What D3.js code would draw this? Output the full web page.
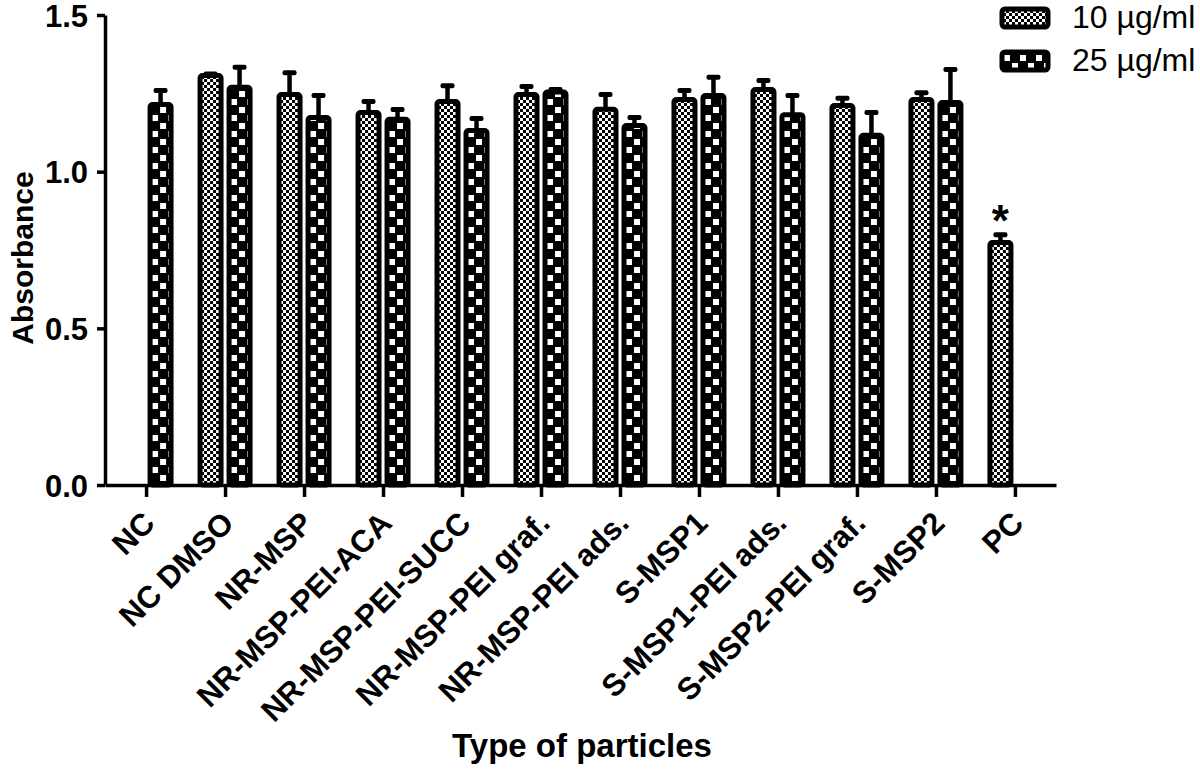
<!DOCTYPE html>
<html>
<head>
<meta charset="utf-8">
<script src="https://cdn.jsdelivr.net/npm/d3@7"></script>
<style>
  body { margin: 0; background: #fff; }
  svg { display: block; }
</style>
</head>
<body>
<svg id="chart" width="1200" height="770"></svg>
<script>

var categories = ["NC", "NC DMSO", "NR-MSP", "NR-MSP-PEI-ACA", "NR-MSP-PEI-SUCC", "NR-MSP-PEI graf.",
  "NR-MSP-PEI ads.", "S-MSP1", "S-MSP1-PEI ads.", "S-MSP2-PEI graf.", "S-MSP2", "PC"];
var seriesNames = ["10 µg/ml", "25 µg/ml"];
var mean10 = [null, 1.315, 1.254, 1.197, 1.232, 1.254, 1.207, 1.238, 1.270, 1.219, 1.238, 0.782];
var err10 = [null, 0.005, 0.070, 0.035, 0.050, 0.026, 0.047, 0.029, 0.029, 0.023, 0.022, 0.025];
var mean25 = [1.222, 1.277, 1.181, 1.175, 1.139, 1.262, 1.155, 1.251, 1.190, 1.124, 1.229, null];
var err25 = [0.045, 0.064, 0.070, 0.031, 0.039, 0.008, 0.026, 0.058, 0.061, 0.073, 0.105, null];
var yTicks = [0, 0.5, 1.0, 1.5];
var significant = ["PC"];

var font = "'Liberation Sans', Arial, sans-serif";
var svg = d3.select("#chart");

// patterns for the two concentrations (user space of each bar group, so they line up with the bar edge)
var defs = svg.append("defs");
var fine = defs.append("pattern")
  .attr("id", "p10")
  .attr("patternUnits", "userSpaceOnUse")
  .attr("x", 1)
  .attr("y", 1)
  .attr("width", 6)
  .attr("height", 6);
fine.append("rect").attr("width", 6).attr("height", 6).style("fill", "#fff");
fine.append("rect").attr("x", 3).attr("y", 0).attr("width", 3).attr("height", 3).style("fill", "#000");
fine.append("rect").attr("x", 0).attr("y", 3).attr("width", 3).attr("height", 3).style("fill", "#000");

var coarse = defs.append("pattern")
  .attr("id", "p25")
  .attr("patternUnits", "userSpaceOnUse")
  .attr("x", 1)
  .attr("y", 2)
  .attr("width", 16)
  .attr("height", 16);
coarse.append("rect").attr("width", 16).attr("height", 16).style("fill", "#000");
coarse.append("rect").attr("x", 1).attr("y", 1).attr("width", 6).attr("height", 6).style("fill", "#fff");
coarse.append("rect").attr("x", 9).attr("y", 9).attr("width", 6).attr("height", 6).style("fill", "#fff");

var x = d3.scalePoint()
  .domain(categories)
  .range([105, 1056])
  .padding(0.52);

var x1 = d3.scaleBand()
  .domain(seriesNames)
  .range([-29, 29]);

var y = d3.scaleLinear()
  .domain([0, 1.5])
  .range([485, 15]);

var rows = [];
categories.forEach((c, i) => {
  rows.push({ cat: c, s: seriesNames[0], pat: "p10", v: mean10[i], e: err10[i] });
  rows.push({ cat: c, s: seriesNames[1], pat: "p25", v: mean25[i], e: err25[i] });
});
rows = rows.filter(d => d.v != null);

var barW = x1.bandwidth() - 3 - 5;

var bar = svg.append("g")
  .attr("class", "bars")
  .selectAll("g")
  .data(rows)
  .enter()
  .append("g")
  .attr("transform", d => `translate(${x(d.cat) + x1(d.s) + 4}, 0)`);

// error bar stem and cap, drawn first so the bar outline covers the stem base
bar.append("line")
  .attr("x1", barW / 2)
  .attr("x2", barW / 2)
  .attr("y1", d => y(d.v) + 4)
  .attr("y2", d => y(d.v + d.e) + 2)
  .style("stroke", "#000")
  .style("stroke-width", 4.5);

bar.append("rect")
  .attr("x", barW / 2 - 7)
  .attr("y", d => y(d.v + d.e))
  .attr("width", 14)
  .attr("height", 5)
  .attr("rx", 2)
  .style("fill", "#000");

bar.append("rect")
  .attr("x", 0)
  .attr("y", d => y(d.v) + 2.5)
  .attr("width", barW)
  .attr("height", d => y(0) - y(d.v) - 2.5)
  .attr("rx", 2.5)
  .style("fill", d => "url(#" + d.pat + ")")
  .style("stroke", "#000")
  .style("stroke-width", 5);

// significance mark
svg.selectAll("text.star")
  .data(rows.filter(d => significant.indexOf(d.cat) >= 0))
  .enter()
  .append("text")
  .attr("class", "star")
  .text("*")
  .attr("x", d => x(d.cat) + x1(d.s) + x1.bandwidth() / 2)
  .attr("y", d => y(d.v + d.e) + 4)
  .style("text-anchor", "middle")
  .style("font-family", font)
  .style("font-weight", "bold")
  .style("font-size", "44px");

// axes
var yAxis = svg.append("g")
  .attr("transform", "translate(105,0)")
  .call(d3.axisLeft(y).tickValues(yTicks).tickFormat(d3.format(".1f")).tickSize(8).tickSizeOuter(0));

var xAxis = svg.append("g")
  .attr("transform", "translate(0,485)")
  .call(d3.axisBottom(x).tickSize(12).tickSizeOuter(0));

[yAxis, xAxis].forEach(a => {
  a.select(".domain").style("stroke", "#000").style("stroke-width", 3.5);
  a.selectAll(".tick line").style("stroke", "#000").style("stroke-width", 3.5);
  a.selectAll("text")
    .style("fill", "#000")
    .style("font-family", font)
    .style("font-weight", "bold");
});

yAxis.selectAll("text")
  .attr("x", -17)
  .attr("dy", "0.36em")
  .style("font-size", "31px");

xAxis.selectAll("text")
  .attr("x", 0)
  .attr("y", 0)
  .attr("dy", 0)
  .attr("transform", "translate(10,40) rotate(-45)")
  .style("text-anchor", "end")
  .style("font-size", "31px");

// axis titles
svg.append("text")
  .text("Absorbance")
  .attr("transform", "translate(33,258) rotate(-90)")
  .style("text-anchor", "middle")
  .style("font-family", font)
  .style("font-weight", "bold")
  .style("font-size", "30px");

svg.append("text")
  .text("Type of particles")
  .attr("x", 582)
  .attr("y", 757)
  .style("text-anchor", "middle")
  .style("font-family", font)
  .style("font-weight", "bold")
  .style("font-size", "33px");

// legend
var legend = svg.append("g").attr("class", "legend");
var legendItems = legend.selectAll("g")
  .data(seriesNames)
  .enter()
  .append("g")
  .attr("transform", (d, i) => `translate(1002, ${9 + i * 43})`);

legendItems.append("rect")
  .attr("width", 46)
  .attr("height", 18)
  .attr("rx", 3)
  .style("fill", (d, i) => i == 0 ? "url(#p10)" : "url(#p25)")
  .style("stroke", "#000")
  .style("stroke-width", 5);

legendItems.append("text")
  .text(d => d)
  .attr("x", 70)
  .attr("y", 19)
  .style("font-family", font)
  .style("font-size", "32px")
  .style("fill", "#000");

</script>
</body>
</html>
